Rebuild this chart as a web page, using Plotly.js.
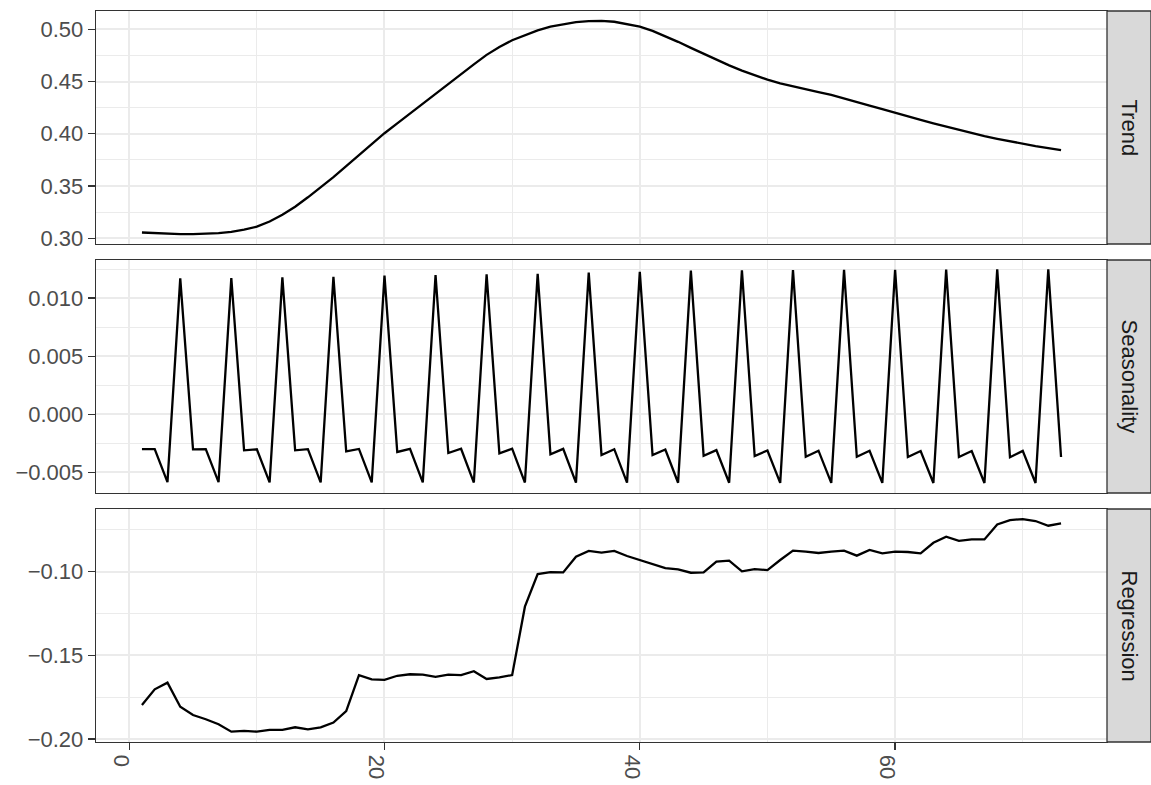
<!DOCTYPE html>
<html>
<head>
<meta charset="utf-8">
<script src="https://cdn.plot.ly/plotly-3.0.1.min.js"></script>
<style>html,body{margin:0;padding:0;background:#fff;}#chart{width:1151px;height:785px;}</style>
</head>
<body>
<div id="chart"></div>
<script>
// Time index
const timeIndex = [1,2,3,4,5,6,7,8,9,10,11,12,13,14,15,16,17,18,19,20,21,22,23,24,25,26,27,28,29,30,31,32,33,34,35,36,37,38,39,40,41,42,43,44,45,46,47,48,49,50,51,52,53,54,55,56,57,58,59,60,61,62,63,64,65,66,67,68,69,70,71,72,73];

// Facet labels
const panelNames = ["Trend", "Seasonality", "Regression"];

// Trend component
const trendValues = [0.3055,0.3048,0.3042,0.3040,0.3040,0.3043,0.3050,0.3062,0.3082,0.3111,
  0.3160,0.3225,0.3302,0.3392,0.3485,0.3585,0.3690,0.3797,0.3902,0.4005,
  0.4100,0.4195,0.4288,0.4382,0.4478,0.4572,0.4665,0.4755,0.4830,0.4895,
  0.4945,0.4990,0.5025,0.5050,0.5068,0.5078,0.5080,0.5072,0.5052,0.5025,
  0.4985,0.4935,0.4880,0.4822,0.4765,0.4708,0.4655,0.4605,0.4560,0.4518,
  0.4482,0.4452,0.4425,0.4398,0.4372,0.4340,0.4305,0.4270,0.4235,0.4199,
  0.4165,0.4132,0.4100,0.4068,0.4038,0.4008,0.3978,0.3952,0.3927,0.3904,
  0.3882,0.3862,0.3843];

// Seasonality component
const seasonalityValues = [-0.00299,-0.00300,-0.00583,0.01170,
  -0.00301,-0.00300,-0.00584,0.01173,
  -0.00310,-0.00301,-0.00585,0.01179,
  -0.00310,-0.00300,-0.00585,0.01184,
  -0.00319,-0.00298,-0.00586,0.01193,
  -0.00324,-0.00297,-0.00586,0.01199,
  -0.00333,-0.00296,-0.00587,0.01205,
  -0.00336,-0.00295,-0.00587,0.01210,
  -0.00344,-0.00297,-0.00588,0.01219,
  -0.00350,-0.00300,-0.00588,0.01227,
  -0.00350,-0.00303,-0.00589,0.01236,
  -0.00356,-0.00308,-0.00589,0.01240,
  -0.00359,-0.00311,-0.00590,0.01242,
  -0.00365,-0.00313,-0.00590,0.01243,
  -0.00365,-0.00314,-0.00590,0.01244,
  -0.00367,-0.00316,-0.00591,0.01245,
  -0.00367,-0.00316,-0.00591,0.01247,
  -0.00370,-0.00315,-0.00591,0.01248,
  -0.00367];

// Regression component
const regressionValues = [-0.1797,-0.1703,-0.1663,-0.1807,-0.1857,-0.1882,-0.1912,-0.1956,-0.1952,-0.1956,
  -0.1946,-0.1946,-0.1930,-0.1942,-0.1930,-0.1902,-0.1833,-0.1618,-0.1643,-0.1647,
  -0.1622,-0.1613,-0.1615,-0.1629,-0.1615,-0.1618,-0.1595,-0.1641,-0.1631,-0.1618,
  -0.1209,-0.1014,-0.1002,-0.1004,-0.0910,-0.0876,-0.0886,-0.0876,-0.0906,-0.0930,
  -0.0954,-0.0978,-0.0986,-0.1006,-0.1004,-0.0940,-0.0934,-0.0998,-0.0984,-0.0990,
  -0.0930,-0.0874,-0.0880,-0.0888,-0.0880,-0.0874,-0.0904,-0.0870,-0.0890,-0.0880,
  -0.0882,-0.0890,-0.0827,-0.0791,-0.0815,-0.0807,-0.0807,-0.0717,-0.0691,-0.0685,
  -0.0697,-0.0725,-0.0711];

const FONT = '"Liberation Sans", Arial, "DejaVu Sans", sans-serif';
const GRID = '#EBEBEB';
const DARK = '#333333';
const lineStyle = {color: '#000000', width: 2.3};

const traces = [
  {x: timeIndex, y: trendValues, xaxis: 'x3', yaxis: 'y', type: 'scatter', mode: 'lines', line: lineStyle, hoverinfo: 'skip'},
  {x: timeIndex, y: seasonalityValues, xaxis: 'x2', yaxis: 'y2', type: 'scatter', mode: 'lines', line: lineStyle, hoverinfo: 'skip'},
  {x: timeIndex, y: regressionValues, xaxis: 'x', yaxis: 'y3', type: 'scatter', mode: 'lines', line: lineStyle, hoverinfo: 'skip'}
];

const W = 1151, H = 785;
const mL = 96, mR = 44, mT = 11, mB = 43;
const plotW = W - mL - mR, plotH = H - mT - mB;
// panel pixel extents (top, bottom)
const panelPx = [[11, 244], [260, 493], [509, 742]];
const dom = panelPx.map(p => [(H - mB - p[1]) / plotH, (H - mB - p[0]) / plotH]);

function xAxisBase(anchor, showLabels) {
  return {
    anchor: anchor,
    range: [-2.6, 76.6],
    tick0: 0, dtick: 20,
    showgrid: true, gridcolor: GRID, gridwidth: 2,
    minor: {tick0: 0, dtick: 10, showgrid: true, gridcolor: GRID, gridwidth: 1, ticks: ''},
    showline: true, mirror: true, linecolor: DARK, linewidth: 1.3,
    zeroline: false,
    ticks: showLabels ? 'outside' : '',
    ticklen: 7, tickwidth: 1.3, tickcolor: DARK,
    showticklabels: showLabels,
    tickangle: 90,
    ticklabelshift: -8,
    tickfont: {family: FONT, size: 22, color: '#4D4D4D'},
    fixedrange: true
  };
}
function yAxisBase(anchor, domain, range, dtick, minorD, fmt) {
  return {
    anchor: anchor,
    domain: domain,
    range: range,
    tick0: 0, dtick: dtick,
    tickformat: fmt,
    showgrid: true, gridcolor: GRID, gridwidth: 2,
    minor: {tick0: 0, dtick: minorD, showgrid: true, gridcolor: GRID, gridwidth: 1, ticks: ''},
    showline: true, mirror: true, linecolor: DARK, linewidth: 1.3,
    zeroline: false,
    ticks: 'outside', ticklen: 7, tickwidth: 1.3, tickcolor: DARK,
    tickfont: {family: FONT, size: 22, color: '#4D4D4D'},
    fixedrange: true
  };
}

const stripW = 44 / plotW;
const shapes = [], annotations = [];
dom.forEach((d, i) => {
  shapes.push({type: 'rect', xref: 'paper', yref: 'paper', x0: 1, x1: 1 + stripW, y0: d[0], y1: d[1],
    fillcolor: '#D9D9D9', line: {color: DARK, width: 1.3}, layer: 'above'});
  annotations.push({xref: 'paper', yref: 'paper', x: 1 + stripW / 2, y: (d[0] + d[1]) / 2,
    text: panelNames[i], showarrow: false, textangle: 90, xanchor: 'center', yanchor: 'middle',
    font: {family: FONT, size: 22, color: '#1A1A1A'}});
});

const layout = {
  width: W, height: H,
  margin: {l: mL, r: mR, t: mT, b: mB, pad: 0},
  paper_bgcolor: '#FFFFFF', plot_bgcolor: '#FFFFFF',
  showlegend: false,
  font: {family: FONT},
  xaxis: xAxisBase('y3', true),
  xaxis2: xAxisBase('y2', false),
  xaxis3: xAxisBase('y', false),
  yaxis: yAxisBase('x3', dom[0], [0.2945, 0.5175], 0.05, 0.025, '.2f'),
  yaxis2: yAxisBase('x2', dom[1], [-0.00677, 0.01328], 0.005, 0.0025, '.3f'),
  yaxis3: yAxisBase('x', dom[2], [-0.2018, -0.0625], 0.05, 0.025, '.2f'),
  shapes: shapes,
  annotations: annotations
};

Plotly.newPlot('chart', traces, layout, {displayModeBar: false, staticPlot: true});
</script>
</body>
</html>
